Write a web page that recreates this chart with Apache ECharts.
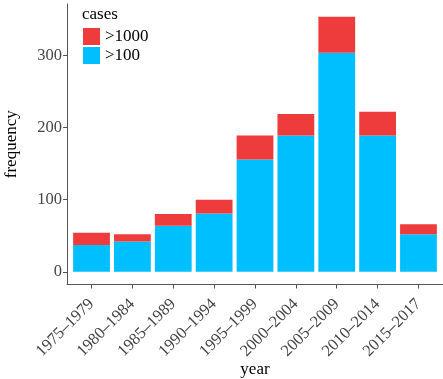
<!DOCTYPE html>
<html><head><meta charset="utf-8">
<script src="https://cdn.jsdelivr.net/npm/echarts@6/dist/echarts.min.js"></script>
<style>html,body{margin:0;padding:0;background:#fff}#c{width:443px;height:379px}</style>
</head><body><div id="c"></div>
<script>
const categories = ['1975–1979','1980–1984','1985–1989','1990–1994','1995–1999','2000–2004','2005–2009','2010–2014','2015–2017'];
const over100 = [37, 42, 64, 81, 156, 189, 304, 189, 52];
const over1000 = [17, 10, 16, 19, 33, 30, 50, 33, 14];
const yTicks = [0, 100, 200, 300];
const positions = categories.map((_, i) => i + 1);

const font = 'Liberation Serif';
const yMin = -17.7, yMax = 371.7;
const band = 376 / 9.2;
const chart = echarts.init(document.getElementById('c'), null, {renderer: 'canvas'});
chart.setOption({
  animation: false,
  backgroundColor: '#fff',
  title: {text: 'cases', left: 77, top: 1, textStyle: {fontFamily: font, fontSize: 17, fontWeight: 'normal', color: '#000'}},
  legend: {
    orient: 'vertical', left: 78, top: 23, itemWidth: 17, itemHeight: 17, itemGap: 2,
    data: ['>1000', '>100'],
    textStyle: {fontFamily: font, fontSize: 17, color: '#000'},
    icon: 'rect'
  },
  grid: [
    {left: 67, right: 0, top: 4, bottom: 94.5, containLabel: false, outerBoundsMode: 'none'},
    {left: 67 + 0.1 * band, right: 0.1 * band, top: 4, bottom: 94.5, containLabel: false, outerBoundsMode: 'none'}
  ],
  xAxis: [{
    type: 'value', gridIndex: 0, min: 0.4, max: 9.6,
    name: 'year', nameLocation: 'middle', nameGap: 77, nameMoveOverlap: false,
    nameTextStyle: {fontFamily: font, fontSize: 17, color: '#000'},
    splitLine: {show: false},
    axisLine: {show: true, onZero: false, lineStyle: {color: '#555', width: 1}},
    axisTick: {show: true, length: 4, customValues: positions, lineStyle: {color: '#555'}},
    axisLabel: {
      customValues: positions, rotate: 45, margin: 17, verticalAlign: 'middle',
      fontFamily: font, fontSize: 16.5, color: '#444',
      formatter: v => categories[Math.round(v) - 1] || ''
    }
  }, {
    type: 'category', gridIndex: 1, data: categories, boundaryGap: true, show: false
  }],
  yAxis: [{
    type: 'value', gridIndex: 0, min: yMin, max: yMax,
    name: 'frequency', nameLocation: 'middle', nameGap: 47, nameMoveOverlap: false,
    nameTextStyle: {fontFamily: font, fontSize: 17, color: '#000'},
    splitLine: {show: false},
    axisLine: {show: true, onZero: false, lineStyle: {color: '#555', width: 1}},
    axisTick: {show: true, length: 4, customValues: yTicks, lineStyle: {color: '#555'}},
    axisLabel: {customValues: yTicks, margin: 5, fontFamily: font, fontSize: 16.5, color: '#444'}
  }, {
    type: 'value', gridIndex: 1, min: yMin, max: yMax, show: false, splitLine: {show: false}
  }],
  series: [
    {name: '>100', type: 'bar', stack: 's', xAxisIndex: 1, yAxisIndex: 1, barWidth: '90%',
     itemStyle: {color: '#00BFFF'}, data: over100},
    {name: '>1000', type: 'bar', stack: 's', xAxisIndex: 1, yAxisIndex: 1, barWidth: '90%',
     itemStyle: {color: '#EE3B3B'}, data: over1000}
  ]
});
</script></body></html>
